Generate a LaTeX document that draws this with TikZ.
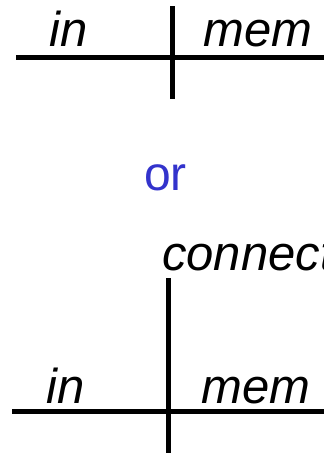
\documentclass[tikz,border=0pt]{standalone}
\usepackage{fontspec}
\setmainfont{Liberation Sans}
\definecolor{orblue}{RGB}{51,51,204}
\begin{document}
\begin{tikzpicture}[x=1pt,y=1pt,
  lbl/.style={anchor=base west,inner sep=0pt,font=\fontsize{49}{52}\selectfont\itshape},
  bar/.style={line width=5pt}]
\useasboundingbox (0,0) rectangle (324,-453);
\clip (0,0) rectangle (324,-453);
% top
\node[lbl] (in1) at (49,-46) {in};
\node[lbl] (mem1) at (203,-46) {mem};
\draw[bar] (16,-57) -- (324,-57);
\draw[bar] (172,-6) -- (172,-99);
% or
\node[anchor=base west,inner sep=0pt,font=\fontsize{48}{51}\selectfont,text=orblue] (or) at (144,-190) {or};
% bottom
\node[lbl] (conn) at (162,-270) {connect};
\node[lbl] (in2) at (46,-403) {in};
\node[lbl] (mem2) at (201,-403) {mem};
\draw[bar] (12,-411) -- (324,-411);
\draw[bar] (168,-278) -- (168,-453);
\end{tikzpicture}
\end{document}
